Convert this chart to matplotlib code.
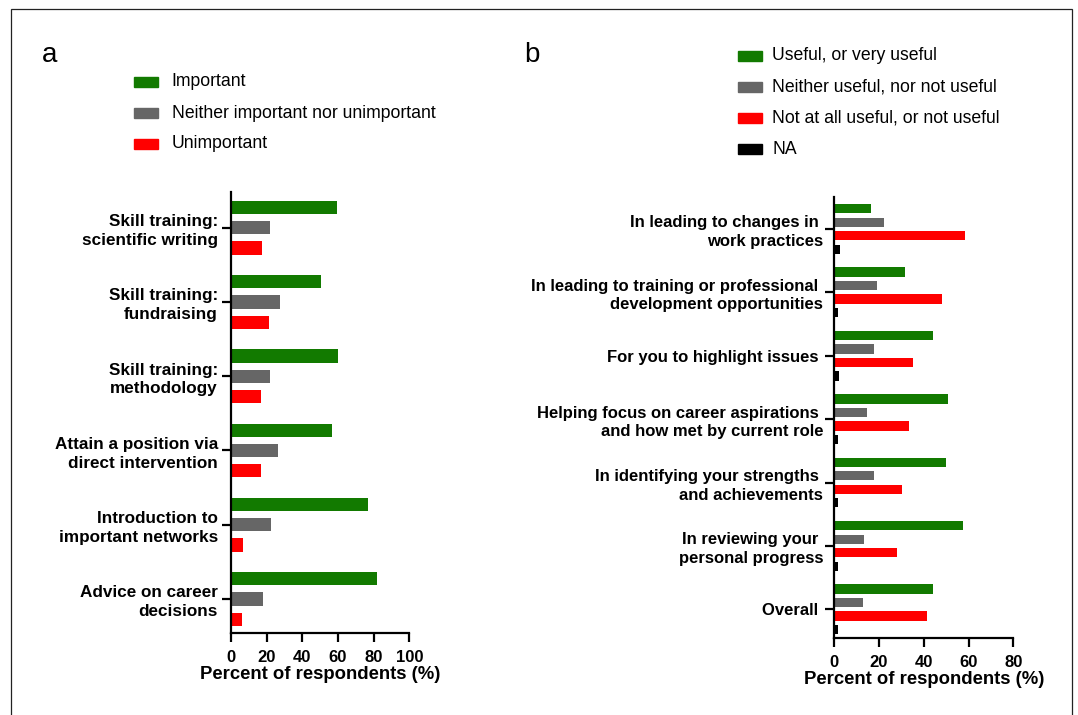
import matplotlib.pyplot as plt
import matplotlib.patches as mpatches
import numpy as np

plt.rcParams['font.family'] = ['Liberation Sans', 'DejaVu Sans']

W, H = 1078, 715

# panel a: importance of mentoring activities
cats_a = ["Skill training:\nscientific writing", "Skill training:\nfundraising",
          "Skill training:\nmethodology", "Attain a position via\ndirect intervention",
          "Introduction to\nimportant networks", "Advice on career\ndecisions"]
important = [59.5, 50.6, 60.1, 56.7, 77.1, 81.7]
neither_a = [22.0, 27.6, 22.0, 26.1, 22.4, 17.9]
unimportant = [17.5, 21.1, 16.8, 16.8, 6.5, 6.0]
labels_a = ["Important", "Neither important nor unimportant", "Unimportant"]

# panel b: usefulness of appraisal
cats_b = ["In leading to changes in \nwork practices",
          "In leading to training or professional \ndevelopment opportunities",
          "For you to highlight issues ",
          "Helping focus on career aspirations \nand how met by current role",
          "In identifying your strengths \nand achievements",
          "In reviewing your \npersonal progress",
          "Overall "]
useful = [16.6, 31.5, 44.3, 50.6, 50.1, 57.3, 43.9]
neither_b = [22.4, 19.0, 17.8, 14.6, 17.8, 13.4, 12.8]
not_useful = [58.2, 48.2, 35.2, 33.3, 30.1, 28.1, 41.5]
na = [2.7, 1.5, 2.2, 1.5, 1.5, 1.5, 1.5]
labels_b = ["Useful, or very useful", "Neither useful, nor not useful",
            "Not at all useful, or not useful", "NA"]

GREEN = "#127a00"
GREY = "#666666"
RED = "#ff0000"
BLACK = "#000000"

fig = plt.figure(figsize=(W / 100, H / 100), dpi=100)


def px_axes(x0, y0, x1, y1):
    return fig.add_axes([x0 / W, 1 - y1 / H, (x1 - x0) / W, (y1 - y0) / H])


def style(ax, xmax, xticks, ysize, ypad):
    for s in ["top", "right"]:
        ax.spines[s].set_visible(False)
    for s in ["left", "bottom"]:
        ax.spines[s].set_linewidth(1.6)
    ax.set_xlim(0, xmax)
    ax.set_xticks(xticks)
    ax.tick_params(axis="both", direction="out", length=6.5, width=1.6)
    ax.tick_params(axis="x", labelsize=12, pad=6)
    ax.tick_params(axis="y", labelsize=ysize, pad=ypad)
    for t in ax.get_xticklabels() + ax.get_yticklabels():
        t.set_fontweight("bold")
    ax.set_xlabel("Percent of respondents (%)", fontsize=13.3, fontweight="bold", labelpad=0.5)


# panel a
ax1 = px_axes(231, 191.7, 409.3, 632.7)
y = np.arange(len(cats_a))
step, h = 0.273, 0.18
for k, (vals, c) in enumerate(zip([important, neither_a, unimportant], [GREEN, GREY, RED])):
    ax1.barh(y + (k - 1) * step, vals, height=h, color=c, linewidth=0)
ax1.set_yticks(y)
ax1.set_yticklabels(cats_a, linespacing=1.3)
ax1.set_ylim(5.454, -0.485)
style(ax1, 100, [0, 20, 40, 60, 80, 100], 12.3, 3)

# panel b
ax2 = px_axes(834.3, 197.3, 1013.3, 637.7)
y = np.arange(len(cats_b))
step, h = 0.213, 0.147
for k, (vals, c) in enumerate(zip([useful, neither_b, not_useful, na], [GREEN, GREY, RED, BLACK])):
    ax2.barh(y + (k - 1.5) * step, vals, height=h, color=c, linewidth=0)
ax2.set_yticks(y)
ax2.set_yticklabels(cats_b, linespacing=1.3)
ax2.set_ylim(6.448, -0.5)
style(ax2, 80, [0, 20, 40, 60, 80], 12.0, 1.5)


# legends: coloured key boxes with text, rows 31 px apart
def key(x, y0, labels, colors, text_x):
    for i, (lab, c) in enumerate(zip(labels, colors)):
        yc = y0 + 31 * i
        fig.patches.append(mpatches.Rectangle((x / W, 1 - (yc + 5) / H), 23.4 / W, 10 / H,
                                              transform=fig.transFigure, color=c))
        fig.text(text_x / W, 1 - yc / H, lab, fontsize=12.7, va="center", ha="left")


key(134.3, 82, labels_a, [GREEN, GREY, RED], 171.5)
key(738.3, 56, labels_b, [GREEN, GREY, RED, BLACK], 772)

fig.text(42 / W, 1 - 55 / H, "a", fontsize=20, va="center", ha="left")
fig.text(524 / W, 1 - 55 / H, "b", fontsize=20, va="center", ha="left")

# frame round the whole figure
fig.patches.append(mpatches.Rectangle((11 / W, -0.05), (1072 - 11) / W, 1.05 - 9 / H,
                                      transform=fig.transFigure, fill=False,
                                      edgecolor="#222222", linewidth=0.9))

fig.savefig("out.png", dpi=100)
